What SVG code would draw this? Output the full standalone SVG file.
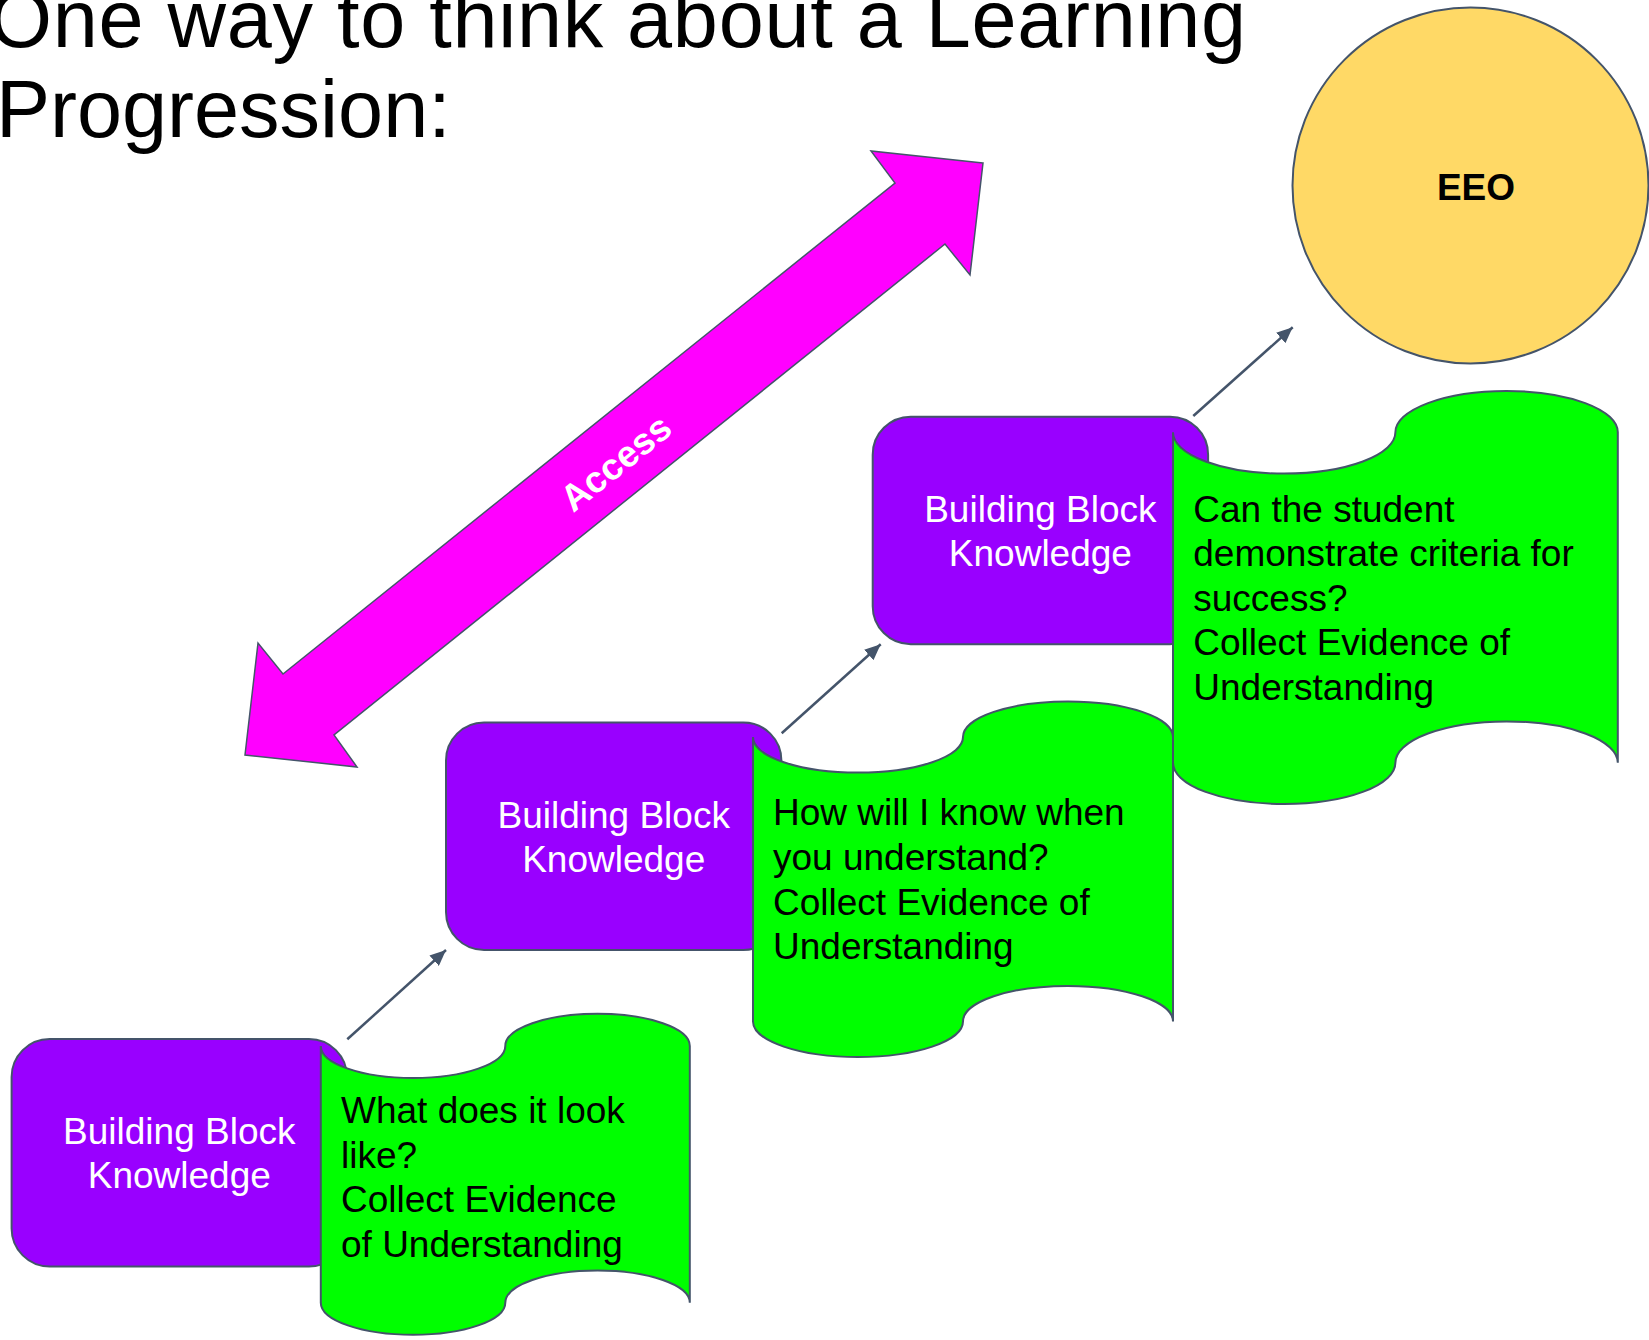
<svg xmlns="http://www.w3.org/2000/svg" width="1649" height="1340" viewBox="0 0 1649 1340">
<style>
.title{font-family:"Liberation Sans",Arial,sans-serif;font-size:81px;fill:#000}
.box{fill:#9900FF;stroke:#44546A;stroke-width:2}
.wave{fill:#00FF00;stroke:#44546A;stroke-width:2}
.bt{font-family:"Liberation Sans",Arial,sans-serif;font-size:37px;fill:#FFFFFF;text-anchor:middle}
.gt{font-family:"Liberation Sans",Arial,sans-serif;font-size:37px;fill:#000000}
.conn{stroke:#44546A;stroke-width:2.5;fill:none}
</style>
<defs>
<marker id="ah" markerUnits="userSpaceOnUse" markerWidth="18" markerHeight="14" refX="16" refY="7" orient="auto">
<path d="M0,0 L16,7 L0,14 Z" fill="#44546A"/>
</marker>
</defs>
<rect width="1649" height="1340" fill="#FFFFFF"/>
<g id="title">
<text class="title" x="-11" y="47" textLength="1257" lengthAdjust="spacing">One way to think about a Learning</text>
<text class="title" x="-4" y="137">Progression:</text>
</g>
<g id="access-arrow">
<polygon points="983,163 871,151 895,183 283,674 258,643 245,755 357,767 334,735 945,244 970,275" fill="#FF00FF" stroke="#44546A" stroke-width="1.5"/>
<text x="0" y="0" transform="translate(616,463) rotate(-38.7)" font-family="Liberation Sans, Arial, sans-serif" font-size="37" font-weight="bold" fill="#FFFFFF" text-anchor="middle" dominant-baseline="central">Access</text>
</g>
<g id="eeo">
<circle cx="1470.5" cy="185.5" r="178" fill="#FFD966" stroke="#44546A" stroke-width="2"/>
<text x="1476" y="200" font-family="Liberation Sans, Arial, sans-serif" font-size="37" font-weight="bold" fill="#000" text-anchor="middle">EEO</text>
</g>
<g id="connectors">
<line class="conn" x1="347.3" y1="1039.3" x2="446" y2="950" marker-end="url(#ah)"/>
<line class="conn" x1="781.7" y1="733.3" x2="880.7" y2="644.3" marker-end="url(#ah)"/>
<line class="conn" x1="1193.3" y1="416" x2="1292.7" y2="327.3" marker-end="url(#ah)"/>
</g>
<g id="block1">
<rect class="box" x="11.6" y="1039" width="335.4" height="227.5" rx="38" ry="38"/>
<text class="bt" x="179.3" y="1143.5">Building Block</text>
<text class="bt" x="179.3" y="1188">Knowledge</text>
</g>
<g id="block2">
<rect class="box" x="446" y="722.5" width="335.4" height="227.5" rx="38" ry="38"/>
<text class="bt" x="613.7" y="827.5">Building Block</text>
<text class="bt" x="613.7" y="872">Knowledge</text>
</g>
<g id="block3">
<rect class="box" x="872.7" y="416.7" width="335.4" height="227.5" rx="38" ry="38"/>
<text class="bt" x="1040.4" y="521.7">Building Block</text>
<text class="bt" x="1040.4" y="566.2">Knowledge</text>
</g>
<g id="evidence1">
<path class="wave" d="M320.8,1045.9 A92.25,32.1 0 0 0 505.3,1045.9 A92.25,32.1 0 0 1 689.8,1045.9 L689.8,1302.7 A92.25,32.1 0 0 0 505.3,1302.7 A92.25,32.1 0 0 1 320.8,1302.7 Z"/>
<text class="gt" x="341" y="1123">What does it look</text>
<text class="gt" x="341" y="1167.5">like?</text>
<text class="gt" x="341" y="1212">Collect Evidence</text>
<text class="gt" x="341" y="1256.5">of Understanding</text>
</g>
<g id="evidence2">
<path class="wave" d="M753,737.05 A105,35.55 0 0 0 963,737.05 A105,35.55 0 0 1 1173,737.05 L1173,1021.45 A105,35.55 0 0 0 963,1021.45 A105,35.55 0 0 1 753,1021.45 Z"/>
<text class="gt" x="773" y="825">How will I know when</text>
<text class="gt" x="773" y="870">you understand?</text>
<text class="gt" x="773" y="914.5">Collect Evidence of</text>
<text class="gt" x="773" y="959">Understanding</text>
</g>
<g id="evidence3">
<path class="wave" d="M1173,432.3 A111.2,41.3 0 0 0 1395.4,432.3 A111.2,41.3 0 0 1 1617.8,432.3 L1617.8,762.7 A111.2,41.3 0 0 0 1395.4,762.7 A111.2,41.3 0 0 1 1173,762.7 Z"/>
<text class="gt" x="1193.3" y="521.7">Can the student</text>
<text class="gt" x="1193.3" y="566">demonstrate criteria for</text>
<text class="gt" x="1193.3" y="610.5">success?</text>
<text class="gt" x="1193.3" y="655">Collect Evidence of</text>
<text class="gt" x="1193.3" y="699.5">Understanding</text>
</g>
</svg>
